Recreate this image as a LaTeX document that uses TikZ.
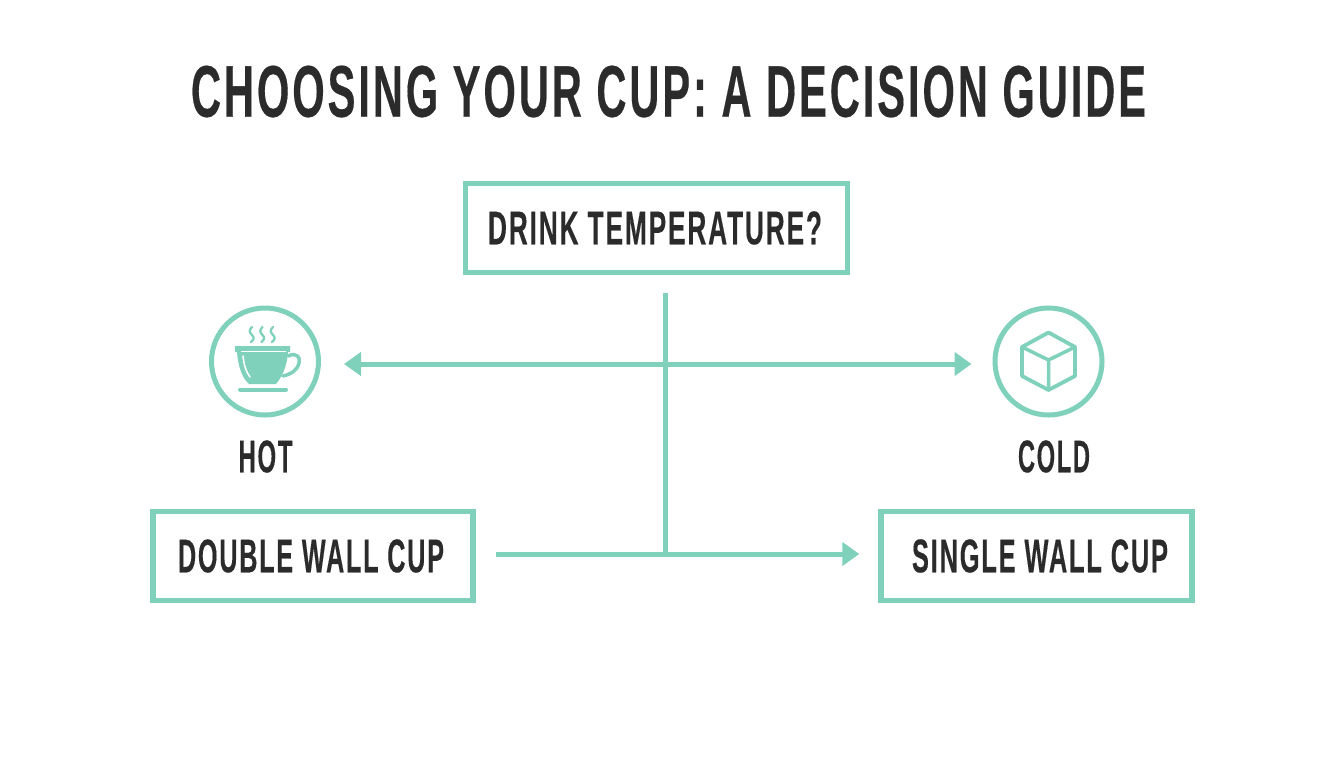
\documentclass[tikz,border=0pt]{standalone}
\usepackage{fontspec}
\usepackage{graphicx}
\setmainfont{Liberation Sans}[BoldFont=* Bold,BoldFeatures={LetterSpace=7,FakeBold=0.4}]
\usetikzlibrary{arrows.meta}
\newdimen\pxu \pxu=0.75pt
\newcommand{\fit}[3]{\resizebox{#1\pxu}{#2\pxu}{\bfseries #3}}
\definecolor{mint}{HTML}{7FD1BC}
\definecolor{ink}{HTML}{2B2B2B}
\tikzset{
  boxnode/.style={draw=mint,line width=5.5\pxu,inner sep=0pt,minimum height=89\pxu,text=ink},
  ringnode/.style={circle,draw=mint,line width=5\pxu,inner sep=0pt,minimum size=107\pxu},
  labelnode/.style={inner sep=0pt,text=ink},
  arrowline/.style={draw=mint,line width=5\pxu},
  headtip/.style={-{Triangle[length=12.75pt,width=17.25pt]}},
  bothtips/.style={{Triangle[length=12.75pt,width=17.25pt]}-{Triangle[length=12.75pt,width=17.25pt]}},
  iconline/.style={draw=mint,line join=round,line cap=round}
}
\begin{document}
\begin{tikzpicture}[x=0.75pt,y=-0.75pt]
\useasboundingbox (0,0) rectangle (1344,768);
\fill[white] (0,0) rectangle (1344,768);
\node[labelnode] (title) at (668.5,91.5) {\fit{955}{51}{CHOOSING YOUR CUP: A DECISION GUIDE}};
\node[boxnode,minimum width=382\pxu] (question) at (656.5,228) {\kern-3\pxu\fit{334}{33}{DRINK TEMPERATURE?}};
\node[boxnode,minimum width=320\pxu] (double) at (313,556) {\kern-4\pxu\fit{266}{33}{DOUBLE WALL CUP}};
\node[boxnode,minimum width=311\pxu] (single) at (1036.5,556) {\kern7\pxu\fit{256}{33}{SINGLE WALL CUP}};
\node[ringnode] (hot) at (265,361.5) {};
\node[ringnode] (cold) at (1048.5,361.5) {};
\node[labelnode] (hotlabel) at (265.5,456.5) {\fit{54}{32}{HOT}};
\node[labelnode] (coldlabel) at (1054,456.5) {\fit{72}{32}{COLD}};
% connectors
\coordinate (junction) at (665,554);
\draw[arrowline,bothtips,shorten <=23\pxu,shorten >=21\pxu] ([yshift=-2.5\pxu]hot.east) -- ([yshift=-2.5\pxu]cold.west);
\draw[arrowline,headtip,shorten <=20\pxu,shorten >=19\pxu] ([yshift=2\pxu]double.east) -- ([yshift=2\pxu]single.west);
\draw[arrowline,shorten <=18\pxu] ([xshift=8.5\pxu]question.south) -- (junction);
% cup icon
\fill[mint] (235,346) -- (290,346) -- (290,352) -- (288,352) .. controls (287,368) and (281,378) .. (276,384) -- (249,384) .. controls (242,378) and (238,366) .. (237,352) -- (235,352) -- cycle;
\draw[iconline,line width=3.5\pxu] (288,356) .. controls (296,352) and (301,357) .. (299,363) .. controls (297,371) and (291,374) .. (283,376);
\draw[white,line width=1\pxu] (241,351.5) -- (286,351.5);
\draw[white,line width=1.6\pxu,line cap=round] (243,356) .. controls (244,365) and (246,372) .. (250,377);
\draw[iconline,line width=4\pxu] (240,389.5) -- (286,389.5);
\foreach \sx in {252,262.5,273}{
  \draw[iconline,line width=2.3\pxu] (\sx,327) .. controls (\sx-3,330) and (\sx-3,332) .. (\sx,335) .. controls (\sx+2.5,337) and (\sx+2,340) .. (\sx-1,342);
}
% cube icon
\draw[iconline,line width=3.8\pxu] (1048.5,332.5) -- (1075,347) -- (1075,376) -- (1048.5,390) -- (1022,376) -- (1022,347) -- cycle;
\draw[iconline,line width=3.5\pxu] (1022,347) -- (1048.5,360) -- (1075,347) (1048.5,360) -- (1048.5,390);
\end{tikzpicture}
\end{document}
